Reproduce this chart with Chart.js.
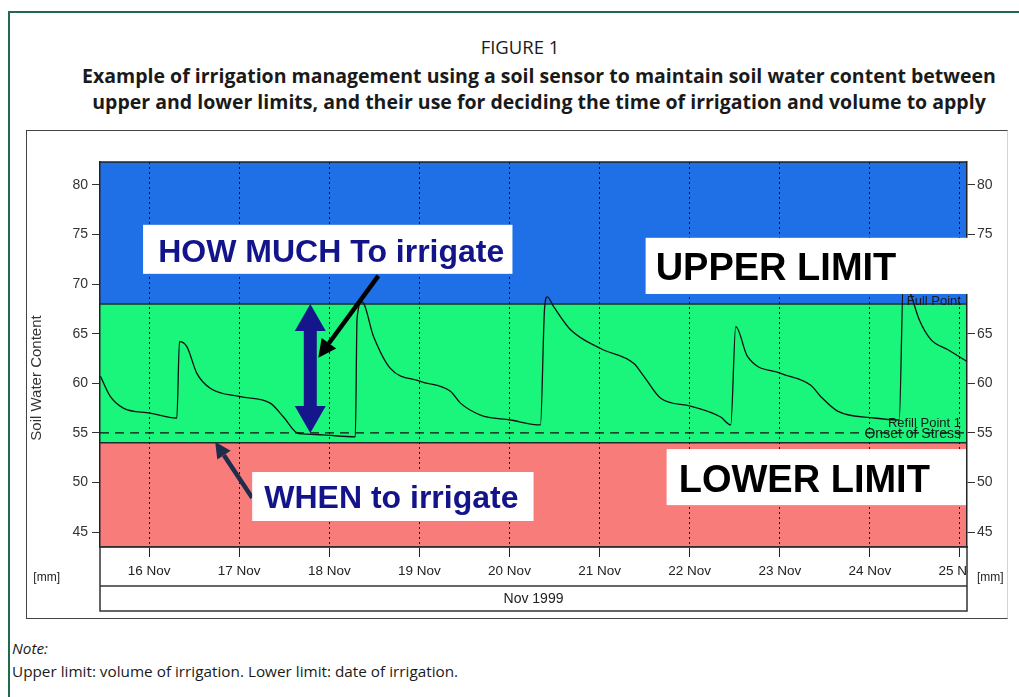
<!DOCTYPE html>
<html>
<head>
<meta charset="utf-8">
<script src="https://cdn.jsdelivr.net/npm/chart.js@4/dist/chart.umd.min.js"></script>
<style>
  body { margin: 0; width: 1019px; height: 697px; overflow: hidden; position: relative; background: #fff; font-family: "Open Sans", sans-serif; color: #1a1a1a; }
  #frame { position: absolute; left: 8px; top: 11px; width: 1100px; height: 800px; border: 2px solid #1e6b4f; }
  .t { position: absolute; text-align: center; white-space: nowrap; }
  #t0 { left: 420px; width: 200px; top: 35px; font-size: 18.5px; line-height: 24px; }
  #t1 { left: 40px; width: 998px; top: 63px; font-size: 19.5px; line-height: 26px; font-weight: bold; }
  #imgbox { position: absolute; left: 26px; top: 130px; width: 982px; height: 489px; box-sizing: border-box; z-index: 2;
            border: 1px solid #444; border-right-color: #d4d4d4; pointer-events: none; }
  #wrap { position: absolute; left: 26px; top: 130px; width: 982px; height: 489px; }
  .note { position: absolute; left: 12px; font-size: 15.3px; line-height: 20px; }
</style>
</head>
<body>
<div id="frame"></div>
<div class="t" id="t0">FIGURE 1</div>
<div class="t" id="t1">Example of irrigation management using a soil sensor to maintain soil water content between<br>upper and lower limits, and their use for deciding the time of irrigation and volume to apply</div>
<div id="wrap"><canvas id="c"></canvas></div>
<div id="imgbox"></div>
<div class="note" style="top:638px"><i>Note:</i></div>
<div class="note" style="top:661px">Upper limit: volume of irrigation. Lower limit: date of irrigation.</div>
<script>
// days of November (x) and soil water content (y)
const days = [16, 17, 18, 19, 20, 21, 22, 23, 24, 25];
const xMin = 15.455, xMax = 25.078;
const yTicks = [45, 50, 55, 60, 65, 70, 75, 80];
const yMin = 43.5, yMax = 82.3;

const swcDay = [15.46, 15.567, 15.714, 16.011, 16.308, 16.337, 16.419, 16.53, 16.678, 17.011,
  17.344, 17.492, 17.641, 17.711, 17.933, 18.289, 18.308, 18.363, 18.492, 18.678,
  19.011, 19.344, 19.456, 19.678, 20.011, 20.344, 20.389, 20.419, 20.492, 20.678,
  21.011, 21.381, 21.492, 21.678, 22.011, 22.344, 22.456, 22.511, 22.641, 23.011,
  23.344, 23.456, 23.641, 24.048, 24.326, 24.372, 24.456, 24.548, 24.678, 24.863, 25.078];
const swcValue = [60.7, 58.7, 57.5, 57.0, 56.5, 64.2, 63.7, 61.0, 59.5, 58.65,
  58.0, 56.6, 55.0, 54.9, 54.8, 54.6, 66.5, 68.2, 64.7, 61.5,
  60.2, 59.2, 58.0, 56.8, 56.3, 55.8, 67.5, 68.7, 67.7, 65.4,
  63.5, 62.0, 60.7, 58.5, 57.7, 56.6, 55.8, 65.7, 62.7, 61.0,
  59.8, 58.65, 57.2, 56.5, 56.3, 70.5, 68.9, 66.4, 64.4, 63.4, 62.2];

const fullPoint = 68;
const refillPoint = 54;
const onsetOfStress = 55;
const bandEdges = [yMax, fullPoint, refillPoint, yMin];
const bandColors = ["#1f6fe6", "#1af57b", "#f87c7a"];

const AF = '"Liberation Sans", Arial, sans-serif';

function arrow(ctx, x1, y1, x2, y2, w, hl, hw, color) {
	const a = Math.atan2(y2 - y1, x2 - x1);
	const bx = x2 - hl * Math.cos(a), by = y2 - hl * Math.sin(a);
	ctx.strokeStyle = color;
	ctx.lineWidth = w;
	ctx.beginPath(); ctx.moveTo(x1, y1); ctx.lineTo(bx, by); ctx.stroke();
	ctx.fillStyle = color;
	ctx.beginPath();
	ctx.moveTo(x2, y2);
	ctx.lineTo(bx + hw * Math.sin(a), by - hw * Math.cos(a));
	ctx.lineTo(bx - hw * Math.sin(a), by + hw * Math.cos(a));
	ctx.closePath(); ctx.fill();
}

const bands = {
	id: "bands",
	beforeDraw(chart) {
		const {ctx, chartArea: a, scales: {y}} = chart;
		ctx.save();
		ctx.fillStyle = "#fff";
		ctx.fillRect(0, 0, chart.width, chart.height);
		for (let i = 0; i < bandColors.length; i++) {
			const top = y.getPixelForValue(bandEdges[i]);
			const bot = y.getPixelForValue(bandEdges[i + 1]);
			ctx.fillStyle = bandColors[i];
			ctx.fillRect(a.left, top, a.right - a.left, bot - top);
		}
		ctx.strokeStyle = "#1b2a2a";
		ctx.lineWidth = 1.5;
		[fullPoint, refillPoint].forEach(v => {
			const p = y.getPixelForValue(v);
			ctx.beginPath(); ctx.moveTo(a.left, p); ctx.lineTo(a.right, p); ctx.stroke();
		});
		ctx.restore();
	}
};

const overlay = {
	id: "overlay",
	afterDraw(chart) {
		const {ctx, chartArea: a, scales: {x, y}} = chart;
		const px = d => x.getPixelForValue(d), py = v => y.getPixelForValue(v);
		ctx.save();

		// plot top edge
		ctx.strokeStyle = "#222"; ctx.lineWidth = 1.5;
		ctx.beginPath(); ctx.moveTo(a.left, a.top); ctx.lineTo(a.right, a.top); ctx.stroke();

		// date rows under the plot
		const rowMid = a.bottom + 39, rowBot = a.bottom + 64;
		ctx.fillStyle = "#fff";
		ctx.fillRect(a.right + 1, a.bottom + 1, 40, 37);
		ctx.strokeStyle = "#333"; ctx.lineWidth = 1.5;
		ctx.strokeRect(a.left, a.bottom, a.right - a.left, rowBot - a.bottom);
		ctx.beginPath(); ctx.moveTo(a.left, rowMid); ctx.lineTo(a.right, rowMid); ctx.stroke();

		ctx.fillStyle = "#222";
		ctx.textBaseline = "middle";
		ctx.font = "12px " + AF;
		ctx.textAlign = "left"; ctx.fillText("[mm]", a.right + 10, a.bottom + 31);
		ctx.textAlign = "right"; ctx.fillText("[mm]", a.left - 40, a.bottom + 31);
		ctx.font = "14px " + AF;
		ctx.textAlign = "center"; ctx.fillText("Nov 1999", (a.left + a.right) / 2, a.bottom + 52);

		// y title
		ctx.save();
		ctx.translate(11, 248); ctx.rotate(-Math.PI / 2);
		ctx.font = "15px " + AF; ctx.fillStyle = "#333";
		ctx.fillText("Soil Water Content", 0, 0);
		ctx.restore();

		// line labels
		ctx.fillStyle = "#1a1a1a"; ctx.textBaseline = "alphabetic"; ctx.textAlign = "right";
		ctx.font = "13px " + AF;
		ctx.fillText("Full Point", px(25.011), py(67.9));
		ctx.fillText("Refill Point 1", px(25.011), py(55.61));
		ctx.font = "14px " + AF;
		ctx.fillText("Onset of Stress", px(25.011), py(54.5));

		// navy double arrow from full point to onset of stress
		const cx = px(17.789), t = py(fullPoint), b = py(onsetOfStress);
		const hw = 15.5, sw = 6.5, hl = 27;
		ctx.fillStyle = "#16168c";
		ctx.beginPath();
		ctx.moveTo(cx, t);
		ctx.lineTo(cx + hw, t + hl); ctx.lineTo(cx + sw, t + hl); ctx.lineTo(cx + sw, b - hl); ctx.lineTo(cx + hw, b - hl);
		ctx.lineTo(cx, b);
		ctx.lineTo(cx - hw, b - hl); ctx.lineTo(cx - sw, b - hl); ctx.lineTo(cx - sw, t + hl); ctx.lineTo(cx - hw, t + hl);
		ctx.closePath(); ctx.fill();

		arrow(ctx, px(17.144), py(48.46), px(16.733), py(54.1), 4.5, 16, 8, "#1f2d4d");

		// white label boxes
		const boxes = [
			{x1: 15.933, x2: 20.033, y1: 75.97, y2: 71.03, tx: 18.022, ty: 72.24, align: "center", text: "HOW MUCH To irrigate", size: 32, color: "#14148a"},
			{x1: 17.144, x2: 20.267, y1: 51.06, y2: 46.12, tx: 18.689, ty: 47.45, align: "center", text: "WHEN to irrigate", size: 32, color: "#14148a"},
			{x1: 21.511, x2: 25.544, y1: 74.66, y2: 69.0, tx: 21.622, ty: 70.43, align: "left", text: "UPPER LIMIT", size: 38, color: "#000"},
			{x1: 21.744, x2: 25.067, y1: 53.37, y2: 47.72, tx: 21.878, ty: 49.06, align: "left", text: "LOWER LIMIT", size: 38, color: "#000"}
		];
		boxes.forEach(bx => {
			ctx.fillStyle = "#fff";
			ctx.fillRect(px(bx.x1), py(bx.y1), px(bx.x2) - px(bx.x1), py(bx.y2) - py(bx.y1));
			ctx.fillStyle = bx.color;
			ctx.font = "bold " + bx.size + "px " + AF;
			ctx.textAlign = bx.align;
			ctx.fillText(bx.text, px(bx.tx), py(bx.ty));
		});

		arrow(ctx, px(18.544), py(70.83), px(17.878), py(62.57), 4.5, 18, 9, "#000");
		ctx.restore();
	}
};

new Chart(document.getElementById("c"), {
	type: "line",
	data: {
		datasets: [{
			label: "Soil Water Content",
			data: swcDay.map((d, i) => ({x: d, y: swcValue[i]})),
			borderColor: "#111",
			borderWidth: 1.3,
			pointRadius: 0,
			cubicInterpolationMode: "monotone",
		}, {
			label: "Onset of Stress",
			data: [{x: xMin, y: onsetOfStress}, {x: xMax, y: onsetOfStress}],
			borderColor: "#111",
			borderWidth: 1.3,
			borderDash: [9, 6],
			pointRadius: 0,
		}],
	},
	options: {
		responsive: true,
		maintainAspectRatio: false,
		animation: false,
		devicePixelRatio: 1,
		layout: {padding: {top: 32}},
		plugins: {
			legend: {display: false},
			tooltip: {enabled: false},
		},
		scales: {
			x: {
				type: "linear",
				min: xMin,
				max: xMax,
				afterBuildTicks: s => { s.ticks = days.map(v => ({value: v})); },
				afterFit: s => { s.height = 72; },
				ticks: {
					callback: v => v + " Nov",
					font: {family: AF, size: 13.5},
					color: "#222",
					padding: 6,
					maxRotation: 0,
					autoSkip: false,
				},
				grid: {color: "#111", lineWidth: 1, tickLength: 10, tickColor: "#222"},
				border: {display: true, color: "#222", width: 1.5, dash: [2, 3]},
			},
			y: {
				position: "left",
				min: yMin,
				max: yMax,
				afterBuildTicks: s => { s.ticks = yTicks.map(v => ({value: v})); },
				afterFit: s => { s.width = 74; },
				ticks: {font: {family: AF, size: 14}, color: "#333", padding: 4},
				grid: {drawOnChartArea: false, tickLength: 8, tickColor: "#333"},
				border: {color: "#222", width: 1.5},
			},
			y2: {
				position: "right",
				min: yMin,
				max: yMax,
				afterBuildTicks: s => { s.ticks = yTicks.map(v => ({value: v})); },
				afterFit: s => { s.width = 41; },
				ticks: {font: {family: AF, size: 14}, color: "#333", padding: 2},
				grid: {drawOnChartArea: false, tickLength: 8, tickColor: "#333"},
				border: {color: "#222", width: 1.5},
			},
		},
	},
	plugins: [bands, overlay],
});
</script>
</body>
</html>
